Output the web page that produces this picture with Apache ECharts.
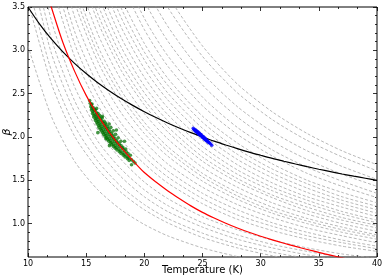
<!DOCTYPE html>
<html><head><meta charset="utf-8">
<script src="https://cdn.jsdelivr.net/npm/echarts@6/dist/echarts.min.js"></script>
<style>html,body{margin:0;padding:0;background:#fff}#c{width:389px;height:280px}</style>
</head><body><div id="c"></div>
<script>
// Temperature grid (K) at which the grey dashed curves are sampled
const temps = [10, 12, 14, 16, 18, 20, 22, 25, 28, 31, 34, 37, 40];
// beta values of each grey dashed curve at the temps above
const grayCurves = [
  [3.05, 2.24, 1.72, 1.39, 1.16, 0.99, 0.86, 0.72, 0.62, 0.54, 0.48, 0.44, 0.40],
  [3.57, 2.62, 2.01, 1.63, 1.36, 1.16, 1.01, 0.84, 0.72, 0.63, 0.56, 0.51, 0.46],
  [3.77, 2.77, 2.13, 1.72, 1.43, 1.22, 1.06, 0.89, 0.76, 0.67, 0.60, 0.54, 0.49],
  [4.05, 2.97, 2.29, 1.85, 1.54, 1.31, 1.14, 0.96, 0.82, 0.72, 0.64, 0.58, 0.53],
  [4.28, 3.14, 2.42, 1.95, 1.63, 1.39, 1.21, 1.01, 0.87, 0.76, 0.68, 0.61, 0.56],
  [4.57, 3.35, 2.58, 2.08, 1.74, 1.48, 1.29, 1.08, 0.93, 0.81, 0.72, 0.65, 0.60],
  [5.20, 3.81, 2.93, 2.37, 1.97, 1.69, 1.47, 1.23, 1.05, 0.92, 0.82, 0.74, 0.68],
  [5.45, 4.00, 3.08, 2.48, 2.07, 1.77, 1.54, 1.29, 1.10, 0.97, 0.86, 0.78, 0.71],
  [5.70, 4.18, 3.22, 2.60, 2.16, 1.85, 1.61, 1.35, 1.16, 1.01, 0.90, 0.81, 0.74],
  [6.00, 4.40, 3.39, 2.74, 2.28, 1.95, 1.69, 1.42, 1.22, 1.07, 0.95, 0.86, 0.78],
  [6.30, 4.62, 3.56, 2.87, 2.39, 2.04, 1.78, 1.49, 1.28, 1.12, 1.00, 0.90, 0.82],
  [6.50, 4.77, 3.67, 2.96, 2.47, 2.11, 1.84, 1.54, 1.32, 1.15, 1.03, 0.93, 0.85],
  [6.70, 4.91, 3.78, 3.05, 2.54, 2.17, 1.89, 1.58, 1.36, 1.19, 1.06, 0.96, 0.87],
  [7.00, 5.13, 3.95, 3.19, 2.66, 2.27, 1.98, 1.65, 1.42, 1.24, 1.11, 1.00, 0.91],
  [7.30, 5.35, 4.12, 3.33, 2.77, 2.37, 2.06, 1.72, 1.48, 1.30, 1.15, 1.04, 0.95],
  [7.50, 5.50, 4.23, 3.42, 2.85, 2.43, 2.12, 1.77, 1.52, 1.33, 1.19, 1.07, 0.98],
  [7.75, 5.68, 4.37, 3.53, 2.94, 2.51, 2.19, 1.83, 1.57, 1.38, 1.23, 1.11, 1.01],
  [8.00, 5.87, 4.52, 3.65, 3.04, 2.59, 2.26, 1.89, 1.62, 1.42, 1.27, 1.14, 1.04],
  [8.30, 6.09, 4.68, 3.78, 3.15, 2.69, 2.34, 1.96, 1.68, 1.47, 1.31, 1.19, 1.08],
  [8.60, 6.31, 4.85, 3.92, 3.27, 2.79, 2.43, 2.03, 1.74, 1.53, 1.36, 1.23, 1.12],
  [8.90, 6.53, 5.02, 4.06, 3.38, 2.89, 2.51, 2.10, 1.80, 1.58, 1.41, 1.27, 1.16],
  [9.20, 6.75, 5.19, 4.19, 3.49, 2.98, 2.60, 2.17, 1.86, 1.63, 1.46, 1.31, 1.20],
  [9.50, 6.97, 5.36, 4.33, 3.61, 3.08, 2.68, 2.24, 1.93, 1.69, 1.50, 1.36, 1.24],
  [10.0, 7.34, 5.64, 4.56, 3.80, 3.24, 2.82, 2.36, 2.03, 1.78, 1.58, 1.43, 1.30],
  [10.4, 7.63, 5.87, 4.74, 3.95, 3.37, 2.94, 2.46, 2.11, 1.85, 1.65, 1.49, 1.35],
  [11.0, 8.07, 6.21, 5.01, 4.18, 3.57, 3.11, 2.60, 2.23, 1.95, 1.74, 1.57, 1.43],
  [11.6, 8.51, 6.55, 5.29, 4.41, 3.76, 3.28, 2.74, 2.35, 2.06, 1.84, 1.66, 1.51],
  [12.4, 9.10, 7.00, 5.65, 4.71, 4.02, 3.50, 2.93, 2.51, 2.20, 1.96, 1.77, 1.61],
  [12.9, 9.46, 7.28, 5.88, 4.90, 4.18, 3.64, 3.05, 2.61, 2.29, 2.04, 1.84, 1.68]
];
// black solid curve, beta at blackT
const blackT = [10, 11, 12, 13, 14, 15, 16, 17, 18, 19, 20, 21, 22, 23, 24, 25, 26, 27, 28, 29, 30, 31, 32, 33, 34, 35, 36, 37, 38, 39, 40];
const blackB = [3.50, 3.302, 3.131, 2.982, 2.85, 2.732, 2.626, 2.531, 2.444, 2.365, 2.292, 2.224, 2.162, 2.104, 2.050, 2.00, 1.952, 1.908, 1.866, 1.826, 1.789, 1.753, 1.720, 1.688, 1.657, 1.628, 1.600, 1.573, 1.548, 1.524, 1.500];
// red solid curve
const redT = [11.8, 12, 13, 14, 15, 16, 17, 18, 19, 20, 21, 22, 23, 24, 25, 26, 27, 28, 29, 30, 31, 32, 33, 34, 35, 36, 37, 38];
const redB = [3.59, 3.50, 3.09, 2.76, 2.48, 2.25, 2.05, 1.88, 1.73, 1.59, 1.48, 1.38, 1.29, 1.205, 1.13, 1.065, 1.005, 0.95, 0.90, 0.855, 0.813, 0.774, 0.737, 0.702, 0.668, 0.636, 0.605, 0.575];
// green sample cloud [T, beta]
const greenPts = [
  [15.35,2.39],[15.45,2.37],[15.5,2.38],[15.3,2.42],
  [15.4,2.35],[15.5,2.33],[15.6,2.34],[15.7,2.32],
  [15.45,2.31],[15.58,2.29],[15.7,2.30],[15.8,2.31],[15.9,2.28],[15.9,2.33],
  [15.55,2.27],[15.68,2.25],[15.8,2.26],[15.92,2.24],[16.02,2.27],[16.15,2.25],
  [15.65,2.23],[15.78,2.21],[15.9,2.22],[16.02,2.20],[16.12,2.23],[16.24,2.21],[16.38,2.22],
  [15.8,2.19],[15.92,2.17],[16.05,2.18],[16.18,2.16],[16.3,2.19],[16.42,2.17],[16.55,2.18],[16.68,2.16],
  [15.95,2.15],[16.08,2.13],[16.2,2.14],[16.33,2.12],[16.45,2.15],[16.58,2.13],[16.7,2.14],[16.85,2.12],[16.98,2.15],
  [16.1,2.11],[16.22,2.09],[16.35,2.10],[16.48,2.08],[16.6,2.11],[16.72,2.09],[16.85,2.10],[16.98,2.08],[17.12,2.11],
  [16.3,2.07],[16.42,2.05],[16.55,2.06],[16.68,2.04],[16.8,2.07],[16.93,2.05],[17.05,2.06],[17.18,2.04],[17.32,2.07],
  [16.5,2.03],[16.62,2.01],[16.75,2.02],[16.88,2.00],[17.0,2.03],[17.12,2.01],[17.25,2.02],[17.38,2.00],[17.52,2.03],
  [16.72,1.99],[16.85,1.97],[16.98,1.98],[17.1,1.96],[17.22,1.99],[17.35,1.97],[17.48,1.98],[17.6,1.96],[17.75,1.99],
  [16.95,1.95],[17.08,1.93],[17.2,1.94],[17.33,1.92],[17.46,1.95],[17.58,1.93],[17.7,1.94],[17.85,1.92],[17.98,1.95],
  [17.2,1.91],[17.35,1.89],[17.48,1.90],[17.6,1.88],[17.73,1.91],[17.86,1.89],[18.0,1.90],[18.15,1.88],
  [17.5,1.87],[17.65,1.85],[17.8,1.86],[17.95,1.84],[18.1,1.87],[18.25,1.85],[18.4,1.86],
  [17.85,1.83],[18.0,1.81],[18.15,1.82],[18.3,1.80],[18.45,1.83],[18.6,1.81],
  [18.2,1.79],[18.35,1.77],[18.5,1.78],[18.65,1.76],[18.8,1.79],
  [18.55,1.75],[18.7,1.73],[18.88,1.74],[19.05,1.72],
  [16.7,1.98],[17.6,2.08],[18.9,1.68],[19.2,1.70],[16.0,2.05],[18.3,1.95],[16.4,2.24],[17.0,1.90]
];
// blue sample cloud [T, beta]
const bluePts = [
  [24.2,2.10],[24.25,2.085],[24.3,2.09],[24.35,2.075],[24.4,2.08],[24.4,2.065],[24.45,2.07],[24.5,2.055],
  [24.5,2.07],[24.55,2.06],[24.6,2.045],[24.6,2.06],[24.65,2.04],[24.7,2.05],[24.7,2.03],[24.75,2.035],
  [24.8,2.02],[24.8,2.035],[24.85,2.025],[24.9,2.01],[24.9,2.025],[24.95,2.005],[25.0,2.01],[25.0,1.995],
  [25.05,2.0],[25.1,1.985],[25.1,2.0],[25.15,1.98],[25.2,1.99],[25.2,1.972],[25.25,1.975],[25.3,1.96],
  [25.3,1.975],[25.35,1.962],[25.4,1.95],[25.45,1.955],[25.5,1.94],[25.55,1.938],[25.6,1.93],[25.7,1.92],[25.8,1.905]
];
// ticks
const xTicks = [10, 15, 20, 25, 30, 35, 40];
const xMinor = [11.667, 13.333, 16.667, 18.333, 21.667, 23.333, 26.667, 28.333, 31.667, 33.333, 36.667, 38.333];
const yTicks = [1.0, 1.5, 2.0, 2.5, 3.0, 3.5];
const yMinor = [0.7, 0.8, 0.9, 1.1, 1.2, 1.3, 1.4, 1.6, 1.7, 1.8, 1.9, 2.1, 2.2, 2.3, 2.4, 2.6, 2.7, 2.8, 2.9, 3.1, 3.2, 3.3, 3.4];

const XMIN = 10, XMAX = 40, YMIN = 0.615, YMAX = 3.5;
const FONT = 'DejaVu Sans';

function xAx(pos, vals, len, labels) {
  return {
    type: 'value', min: XMIN, max: XMAX, position: pos,
    axisLine: {show: false}, splitLine: {show: false},
    axisTick: {show: true, inside: true, length: len, customValues: vals, lineStyle: {color: '#000', width: 0.8}},
    axisLabel: labels ? {show: true, customValues: vals, fontSize: 8, color: '#000', margin: 3, fontFamily: FONT} : {show: false}
  };
}
function yAx(pos, vals, len, labels) {
  return {
    type: 'value', min: YMIN, max: YMAX, position: pos,
    axisLine: {show: false}, splitLine: {show: false},
    axisTick: {show: true, inside: true, length: len, customValues: vals, lineStyle: {color: '#000', width: 0.8}},
    axisLabel: labels ? {show: true, customValues: vals, fontSize: 8, color: '#000', margin: 3, fontFamily: FONT,
      formatter: v => Number(v).toFixed(1)} : {show: false}
  };
}

const xAxes = [xAx('bottom', xTicks, 4, true), xAx('bottom', xMinor, 2, false), xAx('top', xTicks, 4, false), xAx('top', xMinor, 2, false)];
Object.assign(xAxes[0], {name: 'Temperature (K)', nameLocation: 'middle', nameGap: 8, nameMoveOverlap: false,
  nameTextStyle: {fontSize: 10, color: '#000', fontFamily: FONT, verticalAlign: 'top'}});
const yAxes = [yAx('left', yTicks, 4, true), yAx('left', yMinor, 2, false), yAx('right', yTicks, 4, false), yAx('right', yMinor, 2, false)];
Object.assign(yAxes[0], {name: 'β', nameLocation: 'middle', nameGap: 15, nameRotate: 90, nameMoveOverlap: false,
  nameTextStyle: {fontSize: 11, color: '#000', fontFamily: FONT, fontStyle: 'italic'}});

const series = [];
grayCurves.forEach(c => {
  series.push({type: 'line', data: temps.map((t, i) => [t, c[i]]), showSymbol: false, symbol: 'none',
    smooth: 0.25, silent: true, z: 1,
    lineStyle: {color: '#a6a6a6', width: 0.8, type: [3, 2]}});
});
series.push({type: 'line', data: blackT.map((t, i) => [t, blackB[i]]), symbol: 'none', smooth: 0.3, z: 3,
  lineStyle: {color: '#000', width: 1.2}});
series.push({type: 'scatter', data: greenPts, symbolSize: 3.6, z: 4,
  itemStyle: {color: 'rgba(0,112,0,0.9)'}});
series.push({type: 'scatter', data: bluePts, symbolSize: 3.4, z: 4,
  itemStyle: {color: '#0000ff'}});
series.push({type: 'line', data: redT.map((t, i) => [t, redB[i]]), symbol: 'none', smooth: 0.3, z: 5,
  lineStyle: {color: '#ff0000', width: 1.2}});

const chart = echarts.init(document.getElementById('c'), null, {renderer: 'canvas'});
chart.setOption({
  animation: false,
  backgroundColor: '#fff',
  grid: {left: 28, right: 12, top: 7, bottom: 23, containLabel: false, outerBoundsMode: 'none',
    show: true, borderColor: '#000', borderWidth: 1, backgroundColor: 'transparent'},
  xAxis: xAxes,
  yAxis: yAxes,
  series: series
});
</script></body></html>
